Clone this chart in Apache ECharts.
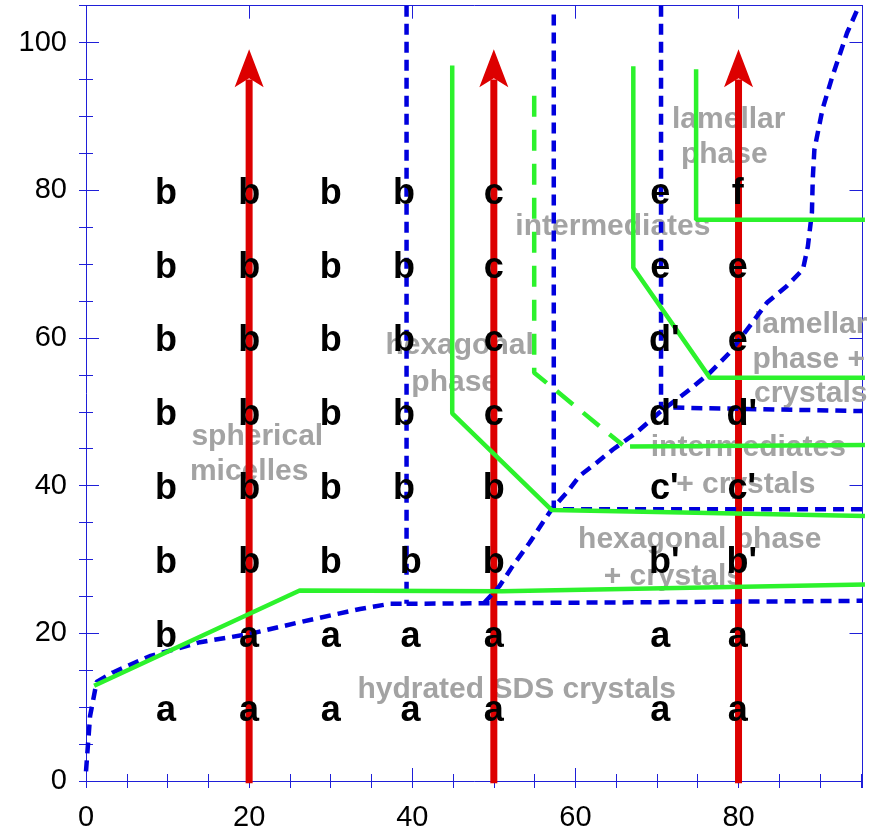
<!DOCTYPE html>
<html><head><meta charset="utf-8">
<script src="https://cdn.jsdelivr.net/npm/echarts@6/dist/echarts.min.js"></script>
<style>html,body{margin:0;padding:0;background:#fff}#c{width:879px;height:832px}</style>
</head><body><div id="c"></div>
<script>
// ---- axis ranges & tick labels ----
const xRange = [0, 95.2];
const yRange = [0, 105];
const xTickLabels = [0, 20, 40, 60, 80];
const yTickLabels = [0, 20, 40, 60, 80, 100];

// ---- red arrows (x positions, tip, shaft end) ----
const arrowX = [20, 50, 80];
const arrowTip = 99.1;
const arrowShaftTop = 95;

// ---- blue dashed boundaries ----
const blueCurveLow = [[0,1.3],[0.5,8.8],[1.3,13.4],[3.3,14.7],[7.8,16.9],[14,18.8],[20,19.9],[25.8,21.4],[33.6,23.3],[37.3,24.0],[39.3,24.0]];
const blueCurveHigh = [[48.8,24.1],[50.7,26.4],[52.3,29.1],[54.4,32.3],[56.0,35.0],[57.1,36.8],[58.9,39.0],[60.5,41.3],[62.6,43.1],[64.6,44.9],[67.5,47.2],[70.3,49.9],[74.0,53.0],[76.5,55.3],[78.9,58.0],[81.7,62.1],[83.5,64.8],[85.9,67.0],[87.9,69.3],[88.5,72.4],[89.0,77.0],[89.1,81.5],[89.3,85.5],[90.3,91.0],[91.5,95.4],[93.3,101.3],[94.7,104.8]];
const blueH24 = [[39.3,24.0],[95.2,24.4]];
const blueV40 = [[39.3,105],[39.3,24.0]];
const blueV57 = [[57.35,103.8],[57.35,36.8],[95.2,36.8]];
const blueV70 = [[70.5,105],[70.5,50.6],[95.2,50.1]];

// ---- green boundaries ----
const greenA = [[1.0,12.9],[26.2,25.8],[51,25.7],[95.5,26.6]];
const greenB = [[44.9,96.9],[44.9,49.8],[57.1,36.7],[95.5,35.9]];
const greenC = [[67.1,96.8],[67.1,69.5],[76.5,54.6],[95.5,54.6]];
const greenD = [[74.8,96.4],[74.8,76.0],[95.5,76.0]];
const greenE = [[66.7,45.3],[95.5,45.5]];
const greenDashed = [[54.95,92.8],[54.95,55.3],[65.8,45.5]];

// ---- sample letters [x, y, label] ----
const letters = [
  [9.8,10,'a'],[20,10,'a'],[30,10,'a'],[39.8,10,'a'],[50,10,'a'],[70.4,10,'a'],[79.9,10,'a'],
  [9.8,20,'b'],[20,20,'a'],[30,20,'a'],[39.8,20,'a'],[50,20,'a'],[70.4,20,'a'],[79.9,20,'a'],
  [9.8,30,'b'],[20,30,'b'],[30,30,'b'],[39.8,30,'b'],[50,30,'b'],[70.9,30,"b'"],[80.4,30,"b'"],
  [9.8,40,'b'],[20,40,'b'],[30,40,'b'],[39.0,40,'b'],[50,40,'b'],[70.9,40,"c'"],[80.4,40,"c'"],
  [9.8,50,'b'],[20,50,'b'],[30,50,'b'],[39.0,50,'b'],[50,50,'c'],[70.9,50,"d'"],[80.4,50,"d'"],
  [9.8,60,'b'],[20,60,'b'],[30,60,'b'],[39.0,60,'b'],[50,60,'c'],[70.9,60,"d'"],[79.9,60,'e'],
  [9.8,70,'b'],[20,70,'b'],[30,70,'b'],[39.0,70,'b'],[50,70,'c'],[70.4,70,'e'],[79.9,70,'e'],
  [9.8,80,'b'],[20,80,'b'],[30,80,'b'],[39.0,80,'b'],[50,80,'c'],[70.4,80,'e'],[79.9,80,'f']
];

// ---- region names (one entry per text line) [x, y, text] ----
const regionLabels = [
  [21.0,47.3,'spherical'],[20.0,42.55,'micelles'],
  [45.8,59.5,'hexagonal'],[45.2,54.5,'phase'],
  [64.6,75.7,'intermediates'],
  [78.8,90.1,'lamellar'],[78.25,85.4,'phase'],
  [88.85,62.4,'lamellar'],[88.6,57.6,'phase +'],[88.85,53.1,'crystals'],
  [81.2,45.7,'intermediates'],[80.9,40.7,'+ crystals'],
  [75.25,33.3,'hexagonal phase'],[72.0,28.3,'+ crystals'],
  [52.8,13.0,'hydrated SDS crystals']
];

const FONT = "'Liberation Sans', Arial, Helvetica, sans-serif";
const AX = '#1f1fd8';
const BLUE = '#0000dd', GREEN = '#2cf22c', RED = '#dd0000';

function axisPair(kind, pos, range, labels, withLabels) {
  const major = {
    type:'value', position:pos, min:range[0], max:range[1], interval:20,
    axisLine:{show:true, onZero:false, lineStyle:{color:AX, width:1}},
    axisTick:{show:true, inside:true, length:13, lineStyle:{color:AX, width:1}},
    axisLabel: withLabels ? {show:true, fontSize:29, color:'#000', fontFamily:FONT, margin: kind==='x'?22:19,
      showMaxLabel:false, formatter:v => labels.includes(v) ? String(v) : ''} : {show:false},
    splitLine:{show:false}
  };
  const minor = {
    type:'value', position:pos, min:range[0], max:range[1], interval:5,
    axisLine:{show:false}, axisTick:{show:true, inside:true, length:7, lineStyle:{color:AX, width:1}},
    axisLabel:{show:false}, splitLine:{show:false}
  };
  return [major, minor];
}

function lineSeries(data, color, width, dash, z) {
  return {type:'line', data, xAxisIndex:0, yAxisIndex:0, symbol:'none', clip:false, silent:true, z,
    lineStyle:{color, width, type:dash || 'solid', cap:'butt', opacity:1}, animation:false};
}

const series = [];
series.push({type:'scatter', xAxisIndex:0, yAxisIndex:0, symbolSize:0, silent:true, z:1, data:regionLabels,
  itemStyle:{opacity:1},
  label:{show:true, position:'inside', offset:[0,4.5], formatter:p => p.data[2], color:'#a3a3a3', opacity:1,
    fontSize:30, fontWeight:'bold', fontFamily:FONT}});
arrowX.forEach(x => series.push(lineSeries([[x,-0.3],[x,arrowShaftTop]], RED, 7, null, 2)));
series.push({type:'scatter', xAxisIndex:0, yAxisIndex:0, silent:true, z:2,
  data: arrowX.map(x => [x, arrowTip]),
  symbol:'path://M14.5 0 L29 38 L14.5 29 L0 38 Z', symbolSize:[29,38], symbolOffset:[0,'50%'], symbolKeepAspect:false,
  itemStyle:{color:RED, opacity:1}});
[blueCurveLow, blueCurveHigh, blueH24, blueV40, blueV57, blueV70].forEach(d => series.push(lineSeries(d, BLUE, 4.5, [11,7], 3)));
[greenA, greenB, greenC, greenD, greenE].forEach(d => series.push(lineSeries(d, GREEN, 4.5, null, 4)));
series.push(lineSeries(greenDashed, GREEN, 4.5, [21,13], 4));
series.push({type:'scatter', xAxisIndex:0, yAxisIndex:0, symbolSize:0, silent:true, z:5, data:letters,
  itemStyle:{opacity:1},
  label:{show:true, position:'inside', offset:[0,3.5], formatter:p => p.data[2], color:'#000', opacity:1,
    fontSize:36, fontWeight:'bold', fontFamily:FONT}});

const chart = echarts.init(document.getElementById('c'), null, {renderer:'canvas'});
chart.setOption({
  animation:false,
  backgroundColor:'#fff',
  grid:{left:86, right:16.5, top:5.7, bottom:50.3, containLabel:false},
  xAxis:[...axisPair('x','bottom',xRange,xTickLabels,true), ...axisPair('x','top',xRange,xTickLabels,false)],
  yAxis:[...axisPair('y','left',yRange,yTickLabels,true), ...axisPair('y','right',yRange,yTickLabels,false)],
  series
});
</script></body></html>
